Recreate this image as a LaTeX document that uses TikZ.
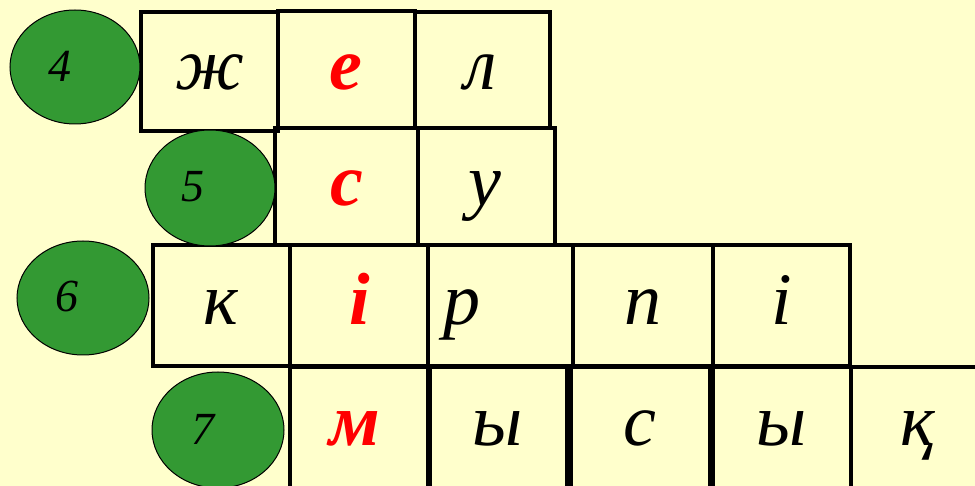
\documentclass[tikz,border=0pt]{standalone}
\usepackage{fontspec}
\setmainfont{Liberation Serif}
\newfontfamily\serifit{LiberationSerif-Italic.ttf}
\newfontfamily\serifbi{LiberationSerif-BoldItalic.ttf}
\usetikzlibrary{shapes.geometric}
\definecolor{bgy}{HTML}{FFFFCC}
\definecolor{grn}{HTML}{339933}
\newcommand{\cellbox}[5]{\node[cellbox, minimum width={#4-#2}, minimum height={#5-#3}] (#1) at ({(#2+#4)/2},{(#3+#5)/2}) {};}
\begin{document}
\begin{tikzpicture}[x=1pt,y=-1pt,
  cellbox/.style={draw=black, line width=4.5pt, inner sep=0pt, outer sep=0pt, rectangle},
  letter/.style={anchor=base, inner sep=0pt, font=\fontsize{74}{74}\selectfont\serifit},
  redletter/.style={anchor=base, inner sep=0pt, text=red, font=\fontsize{74}{74}\selectfont\serifbi},
  oval/.style={ellipse, draw=black, line width=1pt, fill=grn, inner sep=0pt},
  digit/.style={anchor=base, inner sep=0pt, font=\fontsize{46}{46}\selectfont\serifit}]
\useasboundingbox (0,0) rectangle (975,486);
\fill[bgy] (0,0) rectangle (975,486);
\begin{scope}
\clip (0,0) rectangle (975,486);
% row 4
\cellbox{b41}{141}{12}{278}{131}
\cellbox{b42}{278}{11}{415}{128}
\cellbox{b43}{415}{12}{550}{128}
% row 5
\cellbox{b51}{275}{128}{418}{245}
\cellbox{b52}{418}{128}{555}{245}
% row 6
\cellbox{b61}{153}{245}{290}{366}
\cellbox{b62}{290}{245}{428}{366}
\cellbox{b63}{428}{245}{573}{366}
\cellbox{b64}{573}{245}{713}{366}
\cellbox{b65}{713}{245}{850}{366}
% row 7
\cellbox{b71}{290}{367}{428}{500}
\cellbox{b72}{430}{367}{567}{500}
\cellbox{b73}{571}{367}{710}{500}
\cellbox{b74}{713}{367}{851}{500}
\cellbox{b75}{851}{367}{1000}{500}
\end{scope}
% ovals
\node[oval, minimum width=130, minimum height=114] (o4) at (75,67) {};
\node[oval, minimum width=130, minimum height=116] (o5) at (210,188) {};
\node[oval, minimum width=132, minimum height=114] (o6) at (83,298) {};
\node[oval, minimum width=132, minimum height=116] (o7) at (218,430) {};
\node[digit] (d4) at (60,82) {4};
\node[digit] (d5) at (193,202) {5};
\node[digit] (d6) at (67,312) {6};
\node[digit] (d7) at (203,444) {7};
% letters
\node[letter] (l41) at (210,90) {ж};
\node[redletter] (l42) at (346,90) {е};
\node[letter] (l43) at (481,90) {л};
\node[redletter] (l51) at (347,206) {с};
\node[letter] (l52) at (485,206) {у};
\node[letter] (l61) at (221,325) {к};
\node[redletter] (l62) at (360,325) {і};
\node[letter] (l63) at (462,325) {р};
\node[letter] (l64) at (643,325) {п};
\node[letter] (l65) at (782,325) {і};
\node[redletter] (l71) at (355,445) {м};
\node[letter] (l72) at (498,445) {ы};
\node[letter] (l73) at (640,445) {с};
\node[letter] (l74) at (782,445) {ы};
\node[letter] (l75) at (918,445) {қ};
\end{tikzpicture}
\end{document}
